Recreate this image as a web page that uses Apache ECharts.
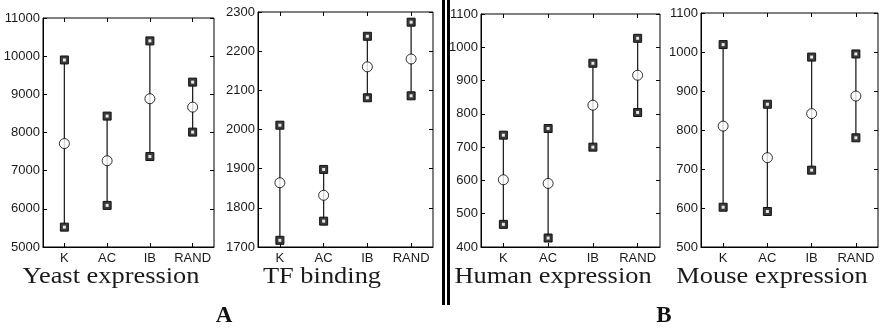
<!DOCTYPE html>
<html>
<head>
<meta charset="utf-8">
<script src="https://cdn.jsdelivr.net/npm/echarts@6/dist/echarts.min.js"></script>
<style>
html,body{margin:0;padding:0;background:#fff;}
#chart{width:882px;height:329px;}
</style>
</head>
<body>
<div id="chart"></div>
<script>
// ---- data ----
const categories = ['K', 'AC', 'IB', 'RAND'];

const yeastHigh = [9900, 8430, 10400, 9320];
const yeastMean = [7710, 7260, 8885, 8665];
const yeastLow  = [5520, 6090, 7370, 8010];

const tfHigh = [2011, 1898, 2238, 2274];
const tfMean = [1864, 1832, 2160, 2180];
const tfLow  = [1717, 1766, 2081, 2086];

const humanHigh = [736, 756, 952, 1027];
const humanMean = [602, 591, 826, 916];
const humanLow  = [468, 427, 700, 804];

const mouseHigh = [1019, 866, 987, 995];
const mouseMean = [810, 729, 842, 887];
const mouseLow  = [602, 591, 697, 780];

const panelTitles = ['Yeast expression', 'TF binding', 'Human expression', 'Mouse expression'];
const groupLabels = ['A', 'B'];

const yMins = [5000, 1700, 400, 500];
const yMaxs = [11000, 2300, 1100, 1100];
const yIntervals = [1000, 100, 100, 100];

// ---- layout ----
const boxes = [
  {l: 43, r: 214, t: 18, b: 247},
  {l: 258, r: 433, t: 12, b: 247},
  {l: 481, r: 660, t: 14, b: 247},
  {l: 701, r: 878, t: 13, b: 247}
];
const panels = [
  {high: yeastHigh, mean: yeastMean, low: yeastLow},
  {high: tfHigh, mean: tfMean, low: tfLow},
  {high: humanHigh, mean: humanMean, low: humanLow},
  {high: mouseHigh, mean: mouseMean, low: mouseLow}
];

const chart = echarts.init(document.getElementById('chart'), null, {renderer: 'canvas'});

const grids = [], xAxes = [], yAxes = [], series = [];
const labelFont = {fontFamily: 'Liberation Sans, Arial, sans-serif', fontSize: 13, color: '#1a1a1a'};

function renderBar(params, api) {
  const x = api.value(0);
  const lo = api.coord([x, api.value(1)]);
  const hi = api.coord([x, api.value(2)]);
  const s = 8;
  const cap = (p) => ([
    {type: 'rect', shape: {x: p[0] - s / 2, y: p[1] - s / 2, width: s, height: s},
     style: {fill: '#3a3a3a', stroke: '#111', lineWidth: 1}},
    {type: 'rect', shape: {x: p[0] - 1.5, y: p[1] - 1.5, width: 3, height: 3},
     style: {fill: '#e8e8e8'}}
  ]);
  return {
    type: 'group',
    children: [
      {type: 'line', shape: {x1: lo[0], y1: lo[1], x2: hi[0], y2: hi[1]},
       style: {stroke: '#222', lineWidth: 1.3}}
    ].concat(cap(lo), cap(hi))
  };
}

boxes.forEach((b, i) => {
  grids.push({left: b.l, top: b.t, width: b.r - b.l, height: b.b - b.t,
              show: true, borderColor: '#000', borderWidth: 1, backgroundColor: '#fff'});
  xAxes.push({type: 'category', gridIndex: i, data: categories, position: 'bottom',
    axisLine: {show: true, lineStyle: {color: '#000', width: 1}},
    axisTick: {show: true, inside: true, alignWithLabel: true, interval: 0, length: 4, lineStyle: {color: '#000'}},
    axisLabel: Object.assign({margin: 5, interval: 0}, labelFont),
    splitLine: {show: false}});
  xAxes.push({type: 'category', gridIndex: i, data: categories, position: 'top',
    axisLine: {show: false},
    axisTick: {show: true, inside: true, alignWithLabel: true, interval: 0, length: 4, lineStyle: {color: '#000'}},
    axisLabel: {show: false}, splitLine: {show: false}});
  yAxes.push({type: 'value', gridIndex: i, min: yMins[i], max: yMaxs[i], interval: yIntervals[i],
    position: 'left',
    axisLine: {show: true, lineStyle: {color: '#000', width: 1}},
    axisTick: {show: true, inside: true, length: 4, lineStyle: {color: '#000'}},
    axisLabel: Object.assign({margin: 3, formatter: (v) => String(v)}, labelFont),
    splitLine: {show: false}});
  yAxes.push({type: 'value', gridIndex: i, min: yMins[i], max: yMaxs[i], interval: yIntervals[i],
    position: 'right',
    axisLine: {show: false},
    axisTick: {show: true, inside: true, length: 4, lineStyle: {color: '#000'}},
    axisLabel: {show: false}, splitLine: {show: false}});

  const p = panels[i];
  series.push({
    type: 'custom', xAxisIndex: 2 * i, yAxisIndex: 2 * i,
    renderItem: renderBar,
    data: categories.map((c, k) => [k, p.low[k], p.high[k]]),
    z: 2
  });
  series.push({
    type: 'scatter', xAxisIndex: 2 * i, yAxisIndex: 2 * i,
    symbol: 'circle', symbolSize: 10,
    itemStyle: {color: '#fff', borderColor: '#000', borderWidth: 1},
    data: categories.map((c, k) => [k, p.mean[k]]),
    z: 3
  });
});

const titleCenters = [111, 322, 553, 772];
const graphics = [];
panelTitles.forEach((t, i) => {
  graphics.push({type: 'text', x: titleCenters[i], y: 277, scaleX: 1.1,
    style: {text: t, fill: '#1a1a1a', font: '24px "Liberation Serif", "Times New Roman", serif',
            textAlign: 'center', textVerticalAlign: 'middle'}});
});
const groupCenters = [224, 664];
groupLabels.forEach((t, i) => {
  graphics.push({type: 'text', x: groupCenters[i], y: 316,
    style: {text: t, fill: '#111', font: 'bold 23px "Liberation Serif", "Times New Roman", serif',
            textAlign: 'center', textVerticalAlign: 'middle'}});
});
graphics.push({type: 'rect', shape: {x: 442, y: 0, width: 3, height: 305}, style: {fill: '#000'}});
graphics.push({type: 'rect', shape: {x: 447, y: 0, width: 3, height: 305}, style: {fill: '#000'}});

chart.setOption({
  animation: false,
  backgroundColor: '#fff',
  grid: grids,
  xAxis: xAxes,
  yAxis: yAxes,
  series: series,
  graphic: graphics
});
</script>
</body>
</html>
